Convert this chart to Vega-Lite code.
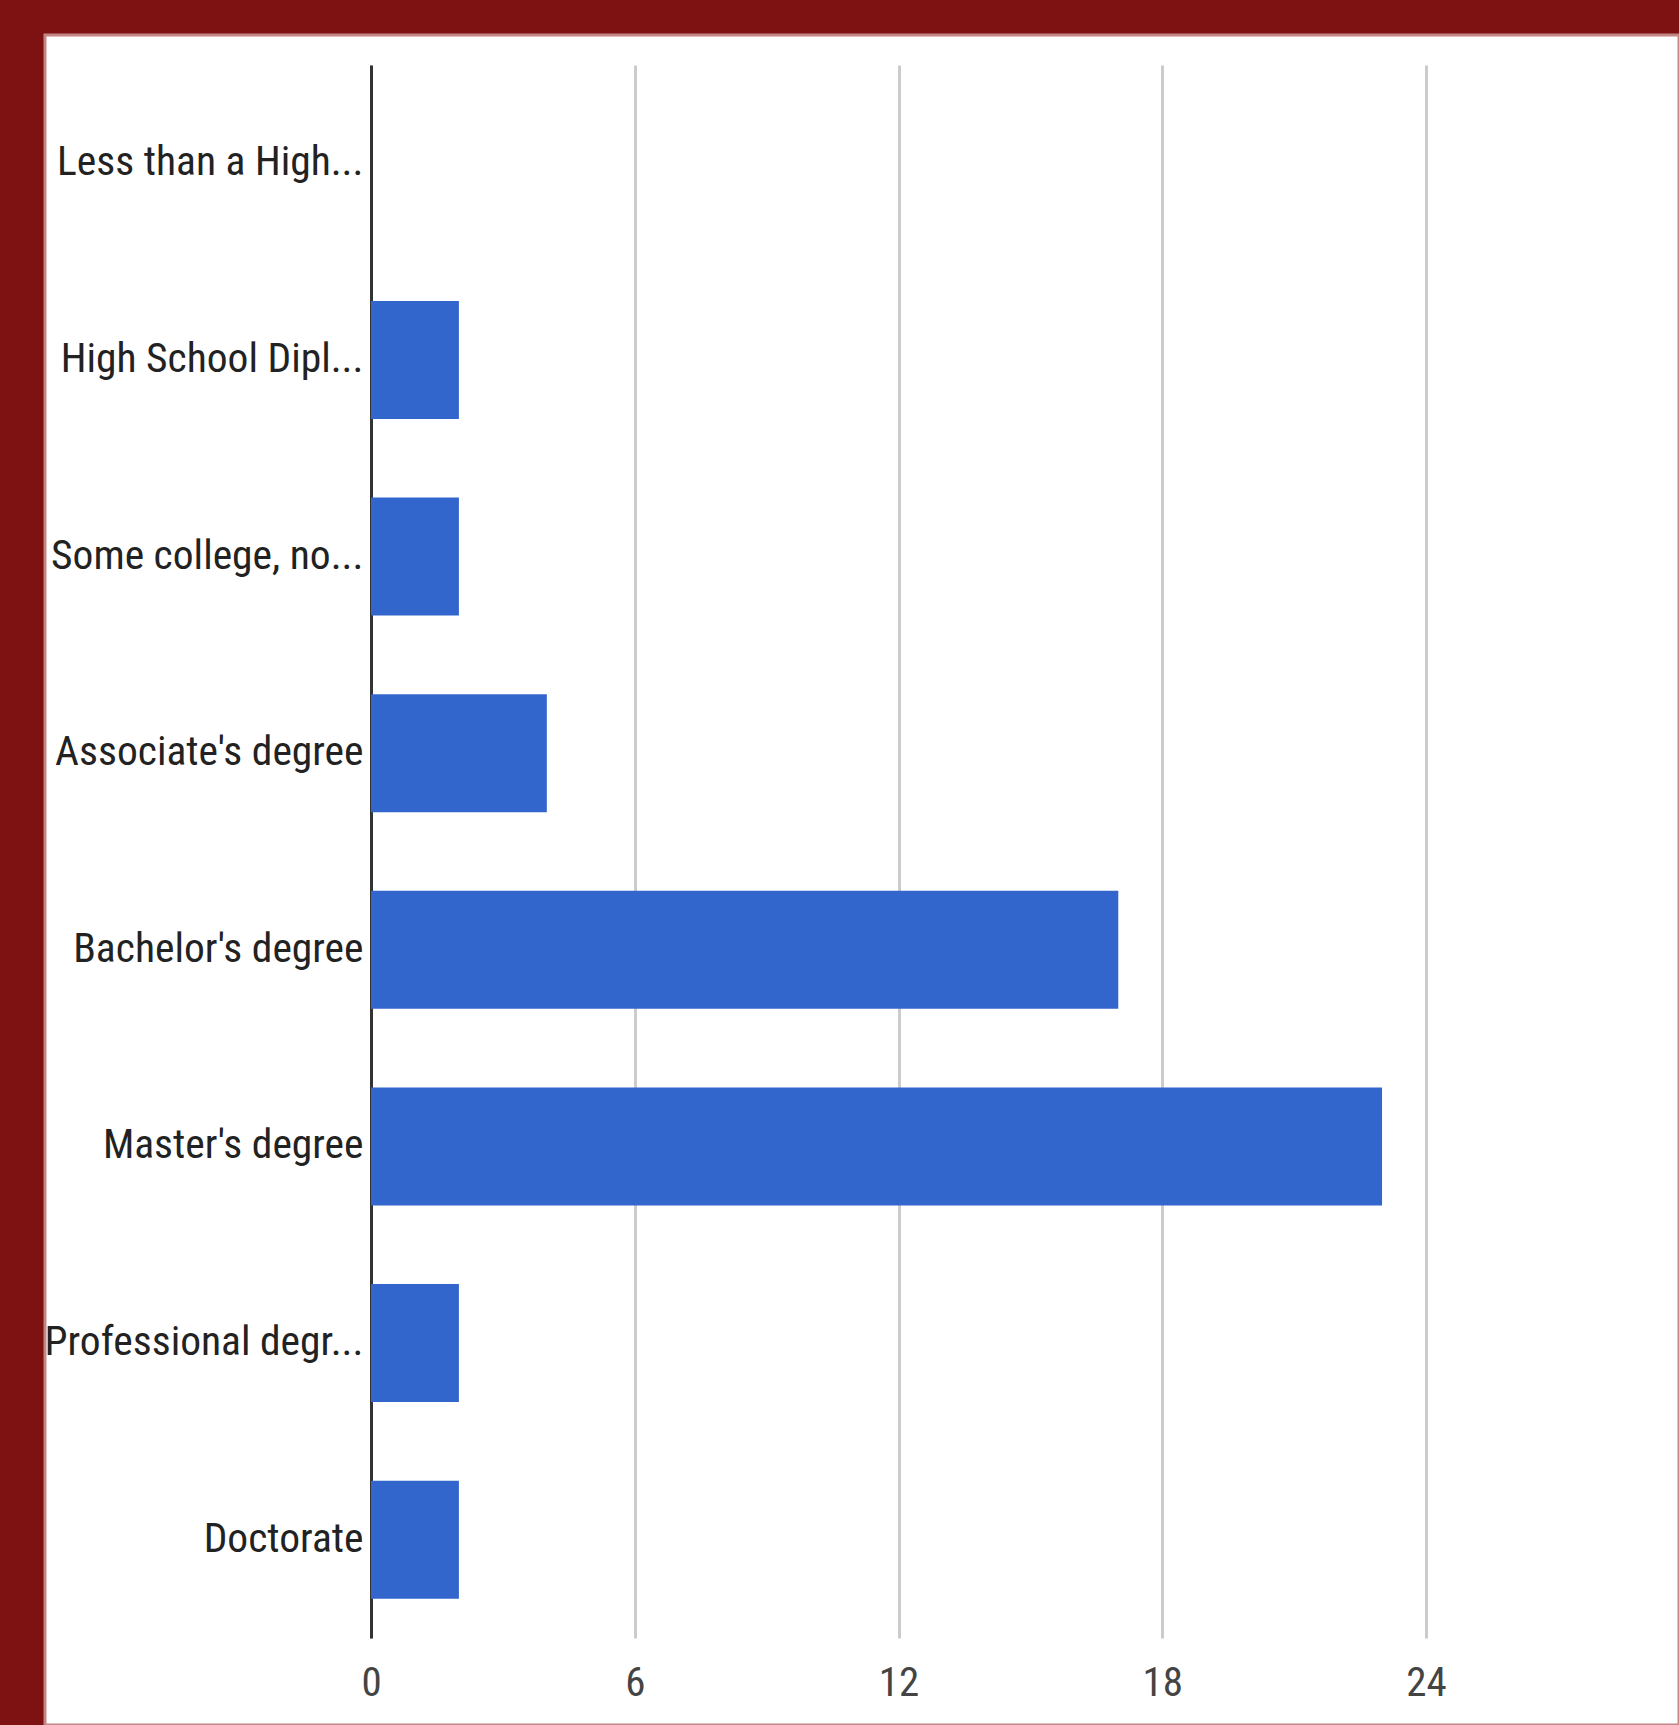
{
  "$schema": "https://vega.github.io/schema/vega-lite/v6.json",
  "autosize": {"type": "none"},
  "width": 1634,
  "height": 1690,
  "padding": {"left": 45, "top": 35, "right": 0, "bottom": 0},
  "background": "#7e1212",
  "config": {
    "view": {"fill": "#ffffff", "stroke": "#c48585", "strokeWidth": 3},
    "axis": {"labelFont": "Liberation Sans Narrow, Arial Narrow, Roboto Condensed, Liberation Sans, Arial", "title": null}
  },
  "data": {
    "values": [
      {"level": "Less than a High...", "count": 0},
      {"level": "High School Dipl...", "count": 2},
      {"level": "Some college, no...", "count": 2},
      {"level": "Associate's degree", "count": 4},
      {"level": "Bachelor's degree", "count": 17},
      {"level": "Master's degree", "count": 23},
      {"level": "Professional degr...", "count": 2},
      {"level": "Doctorate", "count": 2}
    ]
  },
  "mark": {"type": "bar", "color": "#3366cc"},
  "encoding": {
    "y": {
      "field": "level",
      "type": "nominal",
      "sort": null,
      "scale": {"range": [30, 1603], "paddingInner": 0.4, "paddingOuter": 0.2},
      "axis": {
        "offset": -326,
        "domainColor": "#333333",
        "domainWidth": 3,
        "ticks": false,
        "labelPadding": 8,
        "labelFontSize": 41.5,
        "labelColor": "#222222",
        "labelLimit": 0,
        "grid": false
      }
    },
    "x": {
      "field": "count",
      "type": "quantitative",
      "scale": {"domain": [0, 24], "nice": false, "range": [326, 1381]},
      "axis": {
        "orient": "top",
        "offset": 0,
        "values": [0, 6, 12, 18, 24],
        "domain": false,
        "ticks": false,
        "grid": true,
        "gridColor": "#cccccc",
        "gridWidth": 3,
        "labelBaseline": "top",
        "labelPadding": -1628,
        "labelFontSize": 41,
        "labelColor": "#444444",
        "labelFlush": false
      }
    }
  }
}
